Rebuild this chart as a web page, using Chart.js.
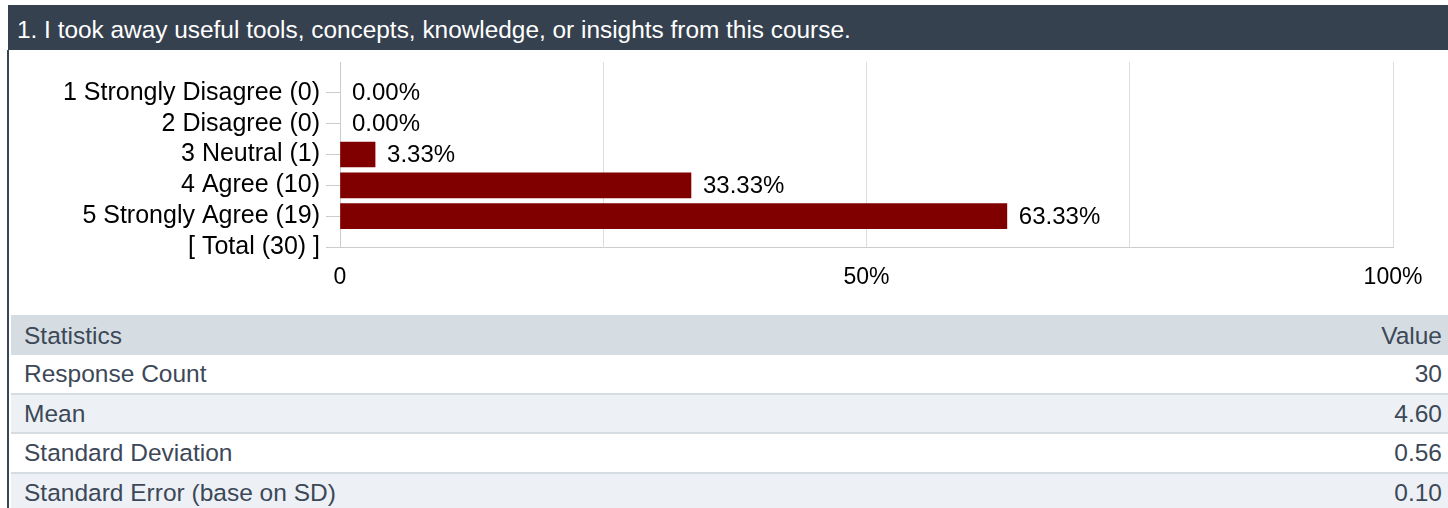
<!DOCTYPE html>
<html lang="en">
<head>
  <meta charset="UTF-8">
  <title>Survey question 1</title>
  <script src="https://cdn.jsdelivr.net/npm/chart.js"></script>
  <style>
    body { margin: 0; background: #fff; font-family: Arial, "Liberation Sans", sans-serif; width: 1448px; height: 508px; overflow: hidden; position: relative; }
    .bar-title { position: absolute; left: 8px; top: 5px; width: 1440px; height: 45px; background: #36414f; color: #fff; font-size: 24.4px; line-height: 50px; padding-left: 9px; box-sizing: border-box; white-space: nowrap; }
    .side { position: absolute; left: 7px; top: 50px; width: 2px; height: 458px; background: #3b4654; }
    .chart-box { position: absolute; left: 10px; top: 50px; width: 1438px; height: 265px; }
    .stats { position: absolute; left: 11px; top: 315px; right: 0; color: #3c4858; font-size: 24.5px; }
    .stats .row { display: flex; justify-content: space-between; align-items: center; box-sizing: border-box; height: 39.5px; padding: 1px 6px 0 13px; border-bottom: 2px solid #d6dde2; }
    .stats .head { background: #d6dde2; height: 40px; border-bottom: none; }
    .stats .row.alt { background: #edf1f5; }
  </style>
</head>
<body>
  <div class="bar-title">1. I took away useful tools, concepts, knowledge, or insights from this course.</div>
  <div class="side"></div>
  <div class="chart-box"><canvas id="q1"></canvas></div>
  <div class="stats" id="stats"></div>

  <script>
    const categories = ['1 Strongly Disagree (0)', '2 Disagree (0)', '3 Neutral (1)', '4 Agree (10)', '5 Strongly Agree (19)', '[ Total (30) ]'];
    const percents = [0, 0, 3.33, 33.33, 63.33, null];
    const xTicks = [0, 25, 50, 75, 100];
    const xTickLabels = ['0', '', '50%', '', '100%'];
    const statNames = ['Response Count', 'Mean', 'Standard Deviation', 'Standard Error (base on SD)'];
    const statValues = ['30', '4.60', '0.56', '0.10'];

    // stats table
    const stats = document.getElementById('stats');
    let html = '<div class="row head"><span>Statistics</span><span>Value</span></div>';
    statNames.forEach(function(name, i) {
      html += '<div class="row' + (i % 2 ? ' alt' : '') + '"><span>' + name + '</span><span>' + statValues[i] + '</span></div>';
    });
    stats.innerHTML = html;

    // value labels next to the bars
    const valueLabels = {
      id: 'valueLabels',
      afterDatasetsDraw(chart) {
        const ctx = chart.ctx;
        const meta = chart.getDatasetMeta(0);
        ctx.save();
        ctx.font = '24px Arial, "Liberation Sans", sans-serif';
        ctx.fillStyle = '#000';
        ctx.textBaseline = 'middle';
        meta.data.forEach(function(bar, i) {
          const v = chart.data.datasets[0].data[i];
          if (v === null || v === undefined) return;
          ctx.fillText(v.toFixed(2) + '%', bar.x + 12, bar.y + 1);
        });
        ctx.restore();
      }
    };

    const ctx = document.getElementById('q1').getContext('2d');
    new Chart(ctx, {
      type: 'bar',
      data: {
        labels: [''].concat(categories),
        datasets: [{
          data: [null].concat(percents),
          backgroundColor: function(c) { return c.raw ? '#800000' : 'rgba(0,0,0,0)'; },
          borderWidth: 0,
          barThickness: 25
        }]
      },
      plugins: [valueLabels],
      options: {
        indexAxis: 'y',
        responsive: true,
        maintainAspectRatio: false,
        animation: false,
        layout: { padding: { top: 12, right: 55, left: 0, bottom: 0 } },
        plugins: { legend: { display: false }, tooltip: { enabled: false } },
        scales: {
          x: {
            min: 0,
            max: 100,
            afterBuildTicks: function(scale) { scale.ticks = xTicks.map(function(v) { return { value: v }; }); },
            afterFit: function(scale) { scale.height = 68; },
            grid: { color: '#dddddd', drawTicks: false },
            border: { color: '#cccccc' },
            ticks: {
              color: '#000',
              padding: 17,
              font: { family: 'Arial, "Liberation Sans", sans-serif', size: 23 },
              callback: function(value, i) { return xTickLabels[i]; }
            }
          },
          y: {
            offset: false,
            afterFit: function(scale) {
              scale.width = 330;
              scale.paddingTop = 0;
              scale.paddingBottom = 0;
            },
            grid: {
              offset: false,
              drawOnChartArea: false,
              tickLength: 14,
              tickColor: function(c) { return c.index === 0 ? 'rgba(0,0,0,0)' : '#cccccc'; }
            },
            border: { color: '#cccccc' },
            ticks: {
              color: '#000',
              padding: 6,
              autoSkip: false,
              font: { family: 'Arial, "Liberation Sans", sans-serif', size: 25 }
            }
          }
        }
      }
    });
  </script>
</body>
</html>
